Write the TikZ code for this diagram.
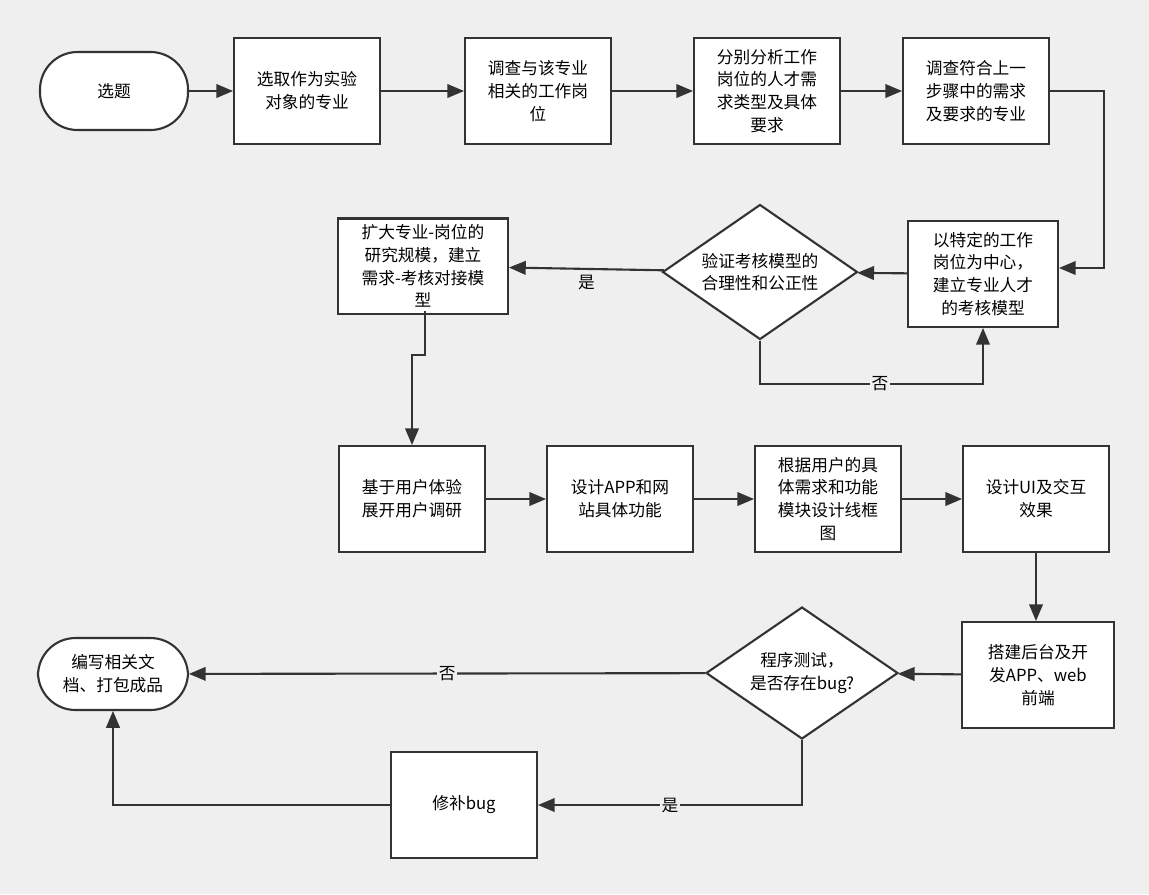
\documentclass[tikz,border=0pt]{standalone}
\usepackage{fontspec}
\setmainfont{Noto Sans CJK SC}
\usetikzlibrary{shapes.geometric,arrows,positioning}
\definecolor{bgc}{HTML}{EFEFEF}
\definecolor{linec}{HTML}{333333}
\tikzstyle{proc} = [rectangle, draw=linec, line width=1.2pt, fill=white, minimum width=2.92cm, minimum height=2.12cm, align=center, font=\fontsize{9.5}{13}\selectfont]
\tikzstyle{term} = [rectangle, rounded corners=0.75cm, draw=linec, line width=1.2pt, fill=white, minimum width=2.96cm, align=center, font=\fontsize{9.5}{13}\selectfont]
\tikzstyle{check} = [diamond, aspect=1.45, draw=linec, line width=1.2pt, fill=white, inner sep=1pt, align=center, font=\fontsize{9.5}{13}\selectfont]
\tikzstyle{arrow} = [draw=linec, line width=1.2pt, -triangle 45]
\tikzstyle{lbl} = [fill=bgc, inner sep=1pt, font=\fontsize{9.5}{12}\selectfont]

\begin{document}
\begin{tikzpicture}[x=0.02cm, y=-0.02cm]
\fill[bgc] (0,0) rectangle (1149,894);
% first row
\node [term, minimum height=1.56cm] (start) at (114,91) {选题};
\node [proc] (pick) at (307,91) {选取作为实验\\对象的专业};
\node [proc] (job) at (538,91) {调查与该专业\\相关的工作岗\\位};
\node [proc] (need) at (767,91) {分别分析工作\\岗位的人才需\\求类型及具体\\要求};
\node [proc] (major) at (976,91) {调查符合上一\\步骤中的需求\\及要求的专业};
% second row
\node [proc, minimum width=3cm] (model) at (983,274) {以特定的工作\\岗位为中心，\\建立专业人才\\的考核模型};
\node [check, minimum width=3.9cm, minimum height=2.7cm] (verify) at (760,272) {验证考核模型的\\合理性和公正性};
\node [proc, minimum width=3.4cm, minimum height=1.8cm] (scale) at (423,266) {扩大专业-岗位的\\研究规模，建立\\需求-考核对接模\\型};
\coordinate (bend) at (1104,268);
% third row
\node [proc] (survey) at (412,499) {基于用户体验\\展开用户调研};
\node [proc] (func) at (620,499) {设计APP和网\\站具体功能};
\node [proc] (frame) at (828,499) {根据用户的具\\体需求和功能\\模块设计线框\\图};
\node [proc] (ui) at (1036,499) {设计UI及交互\\效果};
% last rows
\node [proc, minimum width=3.04cm] (build) at (1038,675) {搭建后台及开\\发APP、web\\前端};
\node [check, minimum width=3.84cm, minimum height=2.64cm] (test) at (802,673) {程序测试，\\是否存在bug?};
\node [term, minimum width=3cm, minimum height=1.44cm] (doc) at (113,674) {编写相关文\\档、打包成品};
\node [proc] (fix) at (464,805) {修补bug};

\draw [arrow] (start) -- (pick);
\draw [arrow] (pick) -- (job);
\draw [arrow] (job) -- (need);
\draw [arrow] (need) -- (major);
\draw [arrow] (major.east) -| (bend) -- (model.east |- bend);
\draw [arrow] (model) -- (verify);
\draw [arrow] (verify) -- node [lbl, below=2pt] {是} (scale);
\draw [arrow] (verify.south) |- (880,384) node [lbl] {否} -| (model.south);
\draw [arrow] (425,311) -- (425,355) -- (412,355) -- (survey.north);
\draw [arrow] (survey) -- (func);
\draw [arrow] (func) -- (frame);
\draw [arrow] (frame) -- (ui);
\draw [arrow] (ui) -- (ui |- build.north);
\draw [arrow] (build) -- (test);
\draw [arrow] (test) -- node [lbl] {否} (doc);
\draw [arrow] (test.south) |- node [lbl, pos=0.75] {是} (fix.east);
\draw [arrow] (fix.west) -| (doc.south);
\end{tikzpicture}
\end{document}
